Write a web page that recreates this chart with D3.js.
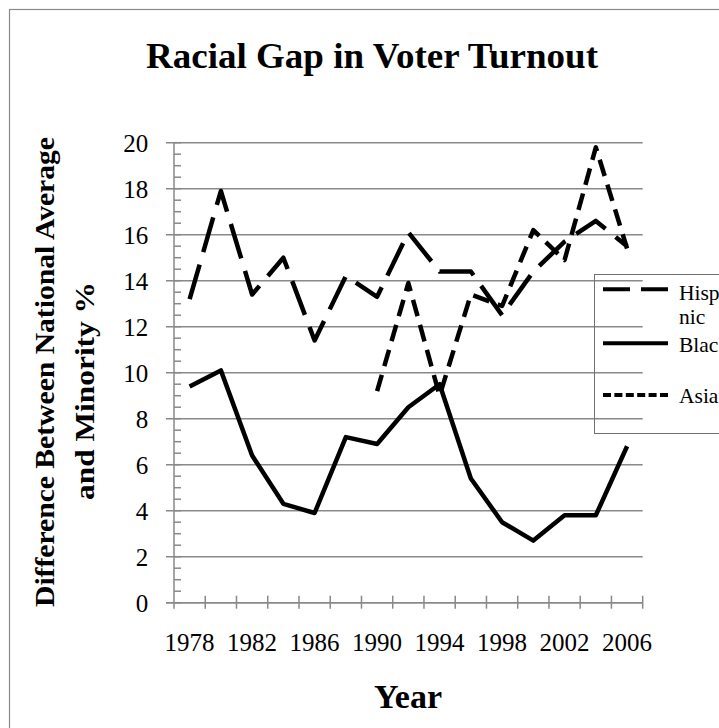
<!DOCTYPE html>
<html>
<head>
<meta charset="utf-8">
<script src="https://cdn.jsdelivr.net/npm/d3@7"></script>
<style>
  html, body { margin: 0; padding: 0; background: #ffffff; overflow: hidden; }
  svg { display: block; }
  text { font-family: "Liberation Serif", "Times New Roman", serif; fill: #000; }
</style>
</head>
<body>
<script>
// Election years (category axis) and the gap, in points, between national and minority turnout
const years = [1978, 1980, 1982, 1984, 1986, 1988, 1990, 1992, 1994, 1996, 1998, 2000, 2002, 2004, 2006];
const hispanic = [13.2, 17.9, 13.4, 15.0, 11.4, 14.2, 13.3, 16.1, 14.4, 14.4, 12.5, 14.4, 15.7, 16.6, 15.5];
const black = [9.4, 10.1, 6.4, 4.3, 3.9, 7.2, 6.9, 8.5, 9.5, 5.4, 3.5, 2.7, 3.8, 3.8, 6.8];
const asianYears = [1990, 1992, 1994, 1996, 1998, 2000, 2002, 2004, 2006];
const asian = [9.2, 13.9, 9.0, 13.4, 12.9, 16.2, 14.9, 19.8, 15.4];
const yearLabels = [1978, 1982, 1986, 1990, 1994, 1998, 2002, 2006];
const yTicks = [0, 2, 4, 6, 8, 10, 12, 14, 16, 18, 20];

const W = 719, H = 728;
const plot = { left: 174, right: 642.7, top: 142.7, bottom: 602.7 };
const grey = "#898989";

const svg = d3.select("body").append("svg").attr("width", W).attr("height", H);
svg.append("rect").attr("width", W).attr("height", H).attr("fill", "#fff");

// chart area frame
svg.append("rect").attr("x", 9.5).attr("y", 9.5).attr("width", 900).attr("height", 900)
  .attr("fill", "none").attr("stroke", "#8a8a8a").attr("stroke-width", 1.2);

const x = d3.scaleBand().domain(years).range([plot.left, plot.right]).padding(0);
const cx = d => x(d) + x.bandwidth() / 2;
const y = d3.scaleLinear().domain([0, 20]).range([plot.bottom, plot.top]);

// horizontal gridlines (extend left past the axis as the major ticks)
svg.append("g").selectAll("line").data(yTicks).join("line")
  .attr("x1", plot.left - 8).attr("x2", plot.right)
  .attr("y1", d => y(d)).attr("y2", d => y(d))
  .attr("stroke", grey).attr("stroke-width", 1.5);

// y axis line with inside minor ticks
svg.append("line").attr("x1", plot.left).attr("x2", plot.left)
  .attr("y1", plot.top).attr("y2", plot.bottom + 6)
  .attr("stroke", grey).attr("stroke-width", 1.5);
const minor = d3.range(0, 20.01, 0.5);
svg.append("g").selectAll("line").data(minor).join("line")
  .attr("x1", plot.left).attr("x2", plot.left + 7)
  .attr("y1", d => y(d)).attr("y2", d => y(d))
  .attr("stroke", grey).attr("stroke-width", 1.5);

// y tick labels
const yAxis = svg.append("g").attr("transform", `translate(${plot.left},0)`)
  .call(d3.axisLeft(y).tickValues(yTicks).tickSize(0).tickPadding(25.7).tickFormat(d3.format("d")));
yAxis.select(".domain").remove();
yAxis.selectAll("text").attr("font-size", 25).attr("font-family", "Liberation Serif, Times New Roman, serif")
  .attr("fill", "#000").attr("dy", "0.34em");

// x axis line with crossing ticks at category boundaries
svg.append("line").attr("x1", plot.left - 8).attr("x2", plot.right)
  .attr("y1", plot.bottom).attr("y2", plot.bottom)
  .attr("stroke", grey).attr("stroke-width", 1.5);
const bounds = years.map(d => x(d)).concat([plot.right]).slice(1);
svg.append("g").selectAll("line").data(bounds).join("line")
  .attr("x1", d => d).attr("x2", d => d)
  .attr("y1", plot.bottom - 7).attr("y2", plot.bottom + 6)
  .attr("stroke", grey).attr("stroke-width", 1.5);

// x tick labels (every other election year)
const xAxis = svg.append("g").attr("transform", `translate(0,${plot.bottom})`)
  .call(d3.axisBottom(x).tickValues(yearLabels).tickSize(0).tickPadding(0));
xAxis.select(".domain").remove();
xAxis.selectAll("text").attr("font-size", 25).attr("font-family", "Liberation Serif, Times New Roman, serif")
  .attr("fill", "#000").attr("dy", null).attr("y", 48);

// series lines
const lineGen = (xs) => d3.line().x((d, i) => cx(xs[i])).y(d => y(d));
const drawSeries = (vals, xs, dash) => {
  svg.append("path").datum(vals)
    .attr("d", lineGen(xs))
    .attr("fill", "none").attr("stroke", "#000").attr("stroke-width", 4.5)
    .attr("stroke-linejoin", "round").attr("stroke-linecap", "butt")
    .attr("stroke-dasharray", dash);
};
drawSeries(black, years, null);
drawSeries(hispanic, years, "36,13");
drawSeries(asian, asianYears, "17,9");

// title
svg.append("text").attr("x", 372).attr("y", 68).attr("text-anchor", "middle")
  .attr("font-size", 36).attr("font-weight", "bold")
  .attr("textLength", 452).attr("lengthAdjust", "spacingAndGlyphs")
  .text("Racial Gap in Voter Turnout");

// y axis title (two lines)
svg.append("text").attr("transform", "translate(53.5,372) rotate(-90)")
  .attr("text-anchor", "middle").attr("font-size", 28).attr("font-weight", "bold")
  .attr("textLength", 470).attr("lengthAdjust", "spacingAndGlyphs")
  .text("Difference Between National Average");
svg.append("text").attr("transform", "translate(94,391) rotate(-90)")
  .attr("text-anchor", "middle").attr("font-size", 28).attr("font-weight", "bold")
  .attr("textLength", 218).attr("lengthAdjust", "spacingAndGlyphs")
  .text("and Minority %");

// x axis title
svg.append("text").attr("x", 408).attr("y", 708).attr("text-anchor", "middle")
  .attr("font-size", 34).attr("font-weight", "bold").text("Year");

// legend
const legend = svg.append("g");
legend.append("rect").attr("x", 594.5).attr("y", 274.5).attr("width", 200).attr("height", 159)
  .attr("fill", "none").attr("stroke", "#707070").attr("stroke-width", 1);
const legendItems = [
  { name: ["Hispa", "nic"], sy: 289.3, ty: [300, 323.5], dash: "27,11" },
  { name: ["Black"], sy: 343.3, ty: [351.5], dash: null },
  { name: ["Asian"], sy: 395, ty: [403], dash: "8,3.4" }
];
legendItems.forEach(it => {
  legend.append("line").attr("x1", 603).attr("x2", 668).attr("y1", it.sy).attr("y2", it.sy)
    .attr("stroke", "#000").attr("stroke-width", 4).attr("stroke-dasharray", it.dash);
  it.name.forEach((t, i) => {
    legend.append("text").attr("x", 679).attr("y", it.ty[i]).attr("font-size", 21.5).text(t);
  });
});
</script>
</body>
</html>
